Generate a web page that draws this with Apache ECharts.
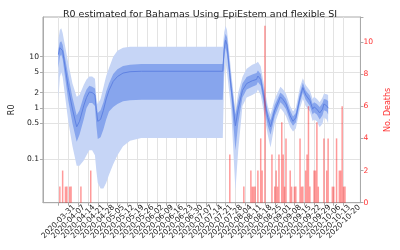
<!DOCTYPE html>
<html><head><meta charset="utf-8">
<script src="https://cdn.jsdelivr.net/npm/echarts@6/dist/echarts.min.js"></script>
<style>html,body{margin:0;padding:0;background:#fff}#c{width:400px;height:250px}</style>
</head><body><div id="c"></div>
<script>
const axisStart = '2020-03-20';
const axisEnd = '2020-11-01';
const tickLabels = ['2020-03-31','2020-04-07','2020-04-14','2020-04-21','2020-04-28','2020-05-05','2020-05-12','2020-05-19','2020-05-26','2020-06-02','2020-06-09','2020-06-16','2020-06-23','2020-06-30','2020-07-07','2020-07-14','2020-07-21','2020-07-28','2020-08-04','2020-08-11','2020-08-18','2020-08-25','2020-09-01','2020-09-08','2020-09-15','2020-09-22','2020-09-29','2020-10-06','2020-10-13','2020-10-20'];

const r0Dates = ['2020-03-31','2020-04-01','2020-04-02','2020-04-03','2020-04-07','2020-04-10','2020-04-13','2020-04-15','2020-04-18','2020-04-20','2020-04-22','2020-04-24','2020-04-26','2020-04-27','2020-04-28','2020-04-30','2020-05-02','2020-05-04','2020-05-06','2020-05-09','2020-05-12','2020-05-16','2020-05-21','2020-05-29','2020-07-26',
'2020-07-27','2020-07-28','2020-07-29','2020-08-01','2020-08-04','2020-08-06','2020-08-09','2020-08-12','2020-08-16','2020-08-19','2020-08-20','2020-08-22','2020-08-24','2020-08-27','2020-08-29','2020-09-01','2020-09-05','2020-09-07','2020-09-09','2020-09-12','2020-09-14','2020-09-16','2020-09-19','2020-09-21','2020-09-23','2020-09-26','2020-09-28','2020-09-29','2020-10-01','2020-10-03','2020-10-05','2020-10-06','2020-10-08','2020-10-09'];
const r0Mean    = [11,15,16,13,2.5,0.95,0.43,0.55,1.1,1.6,2.05,2.0,1.8,0.9,0.55,0.6,0.9,1.5,2.2,3.3,4.1,4.8,5.1,5.2,5.2,
14,21,17,2.4,0.45,0.95,2.2,3.0,3.4,3.6,4.2,3.6,1.8,0.65,0.43,0.9,1.65,1.45,1.2,0.7,0.55,0.65,1.6,2.5,1.8,1.4,0.95,1.05,0.95,0.8,0.95,1.2,1.1,1.0];
const r0InnerLo = [6,10,11,9,1.4,0.5,0.22,0.3,0.6,1.0,1.25,1.25,1.1,0.45,0.25,0.27,0.38,0.6,0.85,1.05,1.2,1.35,1.42,1.45,1.45,
9,15,11,1.7,0.15,0.5,1.6,2.3,2.6,2.8,3.2,2.7,1.3,0.45,0.3,0.7,1.3,1.15,0.95,0.55,0.45,0.52,1.3,2.0,1.45,1.1,0.75,0.82,0.75,0.6,0.72,0.9,0.85,0.75];
const r0InnerHi = [14,19,20,17,4.3,1.6,0.72,0.9,1.7,2.3,2.7,2.6,2.4,1.2,0.8,0.9,1.3,2.1,3.0,4.6,5.7,6.6,7.0,7.2,7.2,
20,28,24,3.5,0.75,1.4,3.0,4.0,4.5,4.8,5.4,4.6,2.4,0.85,0.58,1.15,2.0,1.8,1.5,0.88,0.68,0.8,2.0,3.1,2.2,1.75,1.2,1.3,1.2,1.05,1.25,1.5,1.45,1.35];
const r0OuterLo = [1.5,4,5,4,0.55,0.18,0.075,0.075,0.095,0.12,0.15,0.15,0.12,0.06,0.035,0.027,0.027,0.035,0.05,0.08,0.12,0.18,0.23,0.26,0.26,
4,8,5,0.9,0.025,0.15,1.1,1.6,1.8,2.0,2.3,1.8,0.9,0.3,0.17,0.5,1.0,0.85,0.7,0.42,0.35,0.4,1.0,1.5,1.1,0.85,0.55,0.6,0.55,0.42,0.5,0.65,0.6,0.5];
const r0OuterHi = [22,33,36,29,7.5,3,1.65,1.8,2.8,3.6,4.1,4.1,3.7,1.6,1.2,1.5,2.5,4.2,6,10,13,15,15.6,15.7,15.7,
30,40,33,5,0.85,2,4,5.8,7,7.5,8,6.5,3.2,1.1,0.75,1.5,2.6,2.3,1.9,1.1,0.85,1.0,2.6,3.8,2.8,2.2,1.5,1.65,1.5,1.3,1.6,1.9,1.85,1.8];

const deathDates = ['2020-04-01','2020-04-03','2020-04-05','2020-04-06','2020-04-08','2020-04-09','2020-04-16','2020-04-23','2020-07-31','2020-08-10','2020-08-15','2020-08-16','2020-08-17','2020-08-18','2020-08-20','2020-08-22','2020-08-23','2020-08-25','2020-08-30','2020-09-01','2020-09-02','2020-09-03','2020-09-04','2020-09-06','2020-09-07','2020-09-08','2020-09-09','2020-09-12','2020-09-13','2020-09-15','2020-09-16','2020-09-19','2020-09-20','2020-09-21','2020-09-23','2020-09-24','2020-09-25','2020-09-26','2020-09-29','2020-09-30','2020-10-01','2020-10-02','2020-10-06','2020-10-08','2020-10-09','2020-10-12','2020-10-13','2020-10-15','2020-10-17','2020-10-18','2020-10-19','2020-10-20','2020-10-21'];
const deathCounts = [1,2,1,1,1,1,1,2,3,1,2,1,1,1,2,4,2,11,3,1,2,1,3,5,3,1,4,2,1,1,1,4,1,1,2,3,6,1,2,2,5,1,4,2,4,1,1,4,2,2,6,1,1];

const r0TickValues = [0.1, 0.5, 1, 2, 5, 10];
const deathTickValues = [0, 2, 4, 6, 8, 10];

function dayList(a, b) {
  const out = [];
  let t = Date.parse(a + 'T00:00:00Z');
  const e = Date.parse(b + 'T00:00:00Z');
  while (t <= e) { out.push(new Date(t).toISOString().slice(0, 10)); t += 86400000; }
  return out;
}
const categories = dayList(axisStart, axisEnd);
const catIndex = {};
categories.forEach((d, i) => { catIndex[d] = i; });
const tickSet = new Set(tickLabels);
const evenSet = new Set(tickLabels.filter((d, i) => i % 2 === 0));
const oddSet = new Set(tickLabels.filter((d, i) => i % 2 === 1));
const showTick = (i, v) => tickSet.has(v);

function band(lo, hi, color, z) {
  return {
    type: 'custom', yAxisIndex: 0, z: z, silent: true,
    data: r0Dates.map((d, i) => [d, lo[i], hi[i]]),
    encode: { x: 0, y: [1, 2] },
    renderItem: function (params, api) {
      if (params.dataIndex !== 0) return;
      const top = [], bot = [];
      for (let i = 0; i < r0Dates.length; i++) {
        const xi = catIndex[r0Dates[i]];
        top.push(api.coord([xi, hi[i]]));
        bot.push(api.coord([xi, lo[i]]));
      }
      return { type: 'polygon', shape: { points: top.concat(bot.reverse()) }, style: { fill: color } };
    }
  };
}

const font = 'DejaVu Sans';
const labelBase = { rotate: 45, align: 'center', verticalAlign: 'middle', margin: 19, fontSize: 7.6, color: '#222', fontFamily: font, hideOverlap: false, showMinLabel: true, showMaxLabel: true };
const chart = echarts.init(document.getElementById('c'), null, { renderer: 'canvas' });
chart.setOption({
  animation: false,
  backgroundColor: '#fff',
  title: {
    text: 'R0 estimated for Bahamas Using EpiEstem and flexible SI',
    left: 'center', top: 5,
    textStyle: { fontSize: 9.5, fontWeight: 'normal', color: '#222', fontFamily: font }
  },
  grid: { left: 31, right: 28.5, top: 17, bottom: 47.3, show: true, borderColor: '#aaa', borderWidth: 1, backgroundColor: 'transparent' },
  xAxis: [{
    type: 'category', data: categories, boundaryGap: false, position: 'bottom',
    axisLine: { lineStyle: { color: '#aaa' } },
    axisTick: { interval: showTick, length: 3, lineStyle: { color: '#aaa' } },
    splitLine: { show: true, interval: showTick, lineStyle: { color: '#e3e3e3', width: 1 } },
    axisLabel: Object.assign({ interval: (i, v) => evenSet.has(v) }, labelBase)
  }, {
    type: 'category', data: categories, boundaryGap: false, position: 'bottom', offset: 0,
    axisLine: { show: false }, axisTick: { show: false }, splitLine: { show: false },
    axisLabel: Object.assign({ interval: (i, v) => oddSet.has(v) }, labelBase)
  }],
  yAxis: [{
    type: 'log', logBase: 10, min: 0.01426, max: 59.4, position: 'left',
    name: 'R0', nameLocation: 'middle', nameGap: 19, nameRotate: 90,
    nameTextStyle: { fontSize: 8, color: '#222', fontFamily: font },
    axisLine: { show: true, lineStyle: { color: '#aaa' } },
    axisTick: { show: true, length: 3, customValues: r0TickValues, lineStyle: { color: '#aaa' } },
    axisLabel: { customValues: r0TickValues, fontSize: 7.6, color: '#222', fontFamily: font, margin: 4, formatter: v => String(+v.toPrecision(3)) },
    splitLine: { show: true, lineStyle: { color: '#e3e3e3' } },
    minorTick: { show: false }
  }, {
    type: 'value', min: 0, max: 11.55, interval: 2, position: 'right',
    name: 'No. Deaths', nameLocation: 'middle', nameGap: 15, nameRotate: 90,
    nameTextStyle: { fontSize: 8, color: '#ff3333', fontFamily: font },
    axisLine: { show: true, lineStyle: { color: '#aaa' } },
    axisTick: { show: true, length: 3, lineStyle: { color: '#aaa' } },
    axisLabel: { customValues: deathTickValues, fontSize: 7.6, color: '#ff3333', fontFamily: font, margin: 3 },
    splitLine: { show: false }
  }],
  series: [
    band(r0OuterLo, r0OuterHi, '#c6d5f6', 1),
    band(r0InnerLo, r0InnerHi, '#87a5ed', 2),
    {
      type: 'line', yAxisIndex: 0, z: 3, symbol: 'none', silent: true,
      data: r0Dates.map((d, i) => [d, r0Mean[i]]),
      lineStyle: { color: '#5f82e2', width: 1 }
    },
    {
      type: 'bar', yAxisIndex: 1, z: 4, silent: true, barWidth: 1.5,
      data: deathDates.map((d, i) => [d, deathCounts[i]]),
      itemStyle: { color: 'rgba(255,0,0,0.4)' }
    }
  ]
});
</script></body></html>
